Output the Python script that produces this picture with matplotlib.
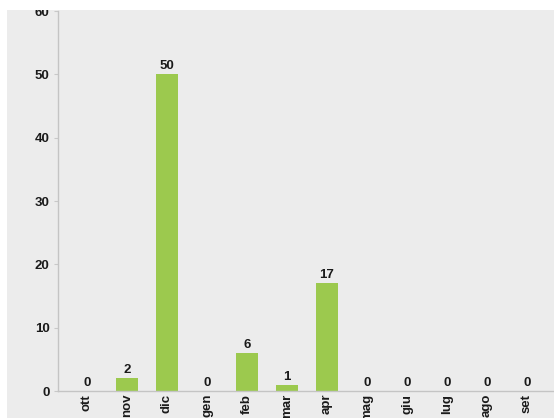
import matplotlib
matplotlib.use("Agg")
import matplotlib.pyplot as plt
import matplotlib.patches as patches

# monthly counts, fiscal year from October
months = ["ott", "nov", "dic", "gen", "feb", "mar", "apr", "mag", "giu", "lug", "ago", "set"]
counts = [0, 2, 50, 0, 6, 1, 17, 0, 0, 0, 0, 0]
y_ticks = [0, 10, 20, 30, 40, 50, 60]

W, H = 554, 418
plt.rcParams["font.family"] = ["Liberation Sans", "DejaVu Sans"]

fig = plt.figure(figsize=(W / 100, H / 100), dpi=100, facecolor="white")

# gray panel behind the chart
bg = patches.Rectangle((7 / W, 0), 1 - 7 / W, 1 - 10 / H, transform=fig.transFigure,
                       facecolor="#ececec", edgecolor="none", zorder=-10)
fig.add_artist(bg)

ax = fig.add_axes([58 / W, (H - 391) / H, (W - 58) / W, (391 - 11) / H])
ax.set_facecolor("none")

x = list(range(len(months)))
bars = ax.bar(x, counts, width=0.55, color="#9cc94e", edgecolor="none", zorder=2)
for xi, v in zip(x, counts):
    ax.text(xi, v + 0.3, str(v), ha="center", va="bottom", fontsize=9.5,
            fontweight="bold", color="#1a1a1a")

ax.set_xlim(-0.725, 11.675)
ax.set_ylim(0, 60)
ax.set_yticks(y_ticks)
ax.set_yticklabels([str(t) for t in y_ticks], fontsize=9.5, fontweight="bold", color="#1a1a1a")
ax.set_xticks(x)
ax.set_xticklabels(months, rotation=90, fontsize=9.5, fontweight="bold", color="#1a1a1a")
ax.tick_params(axis="x", length=0, pad=2)
ax.tick_params(axis="y", length=3, color="#c8c8c8", pad=3)

for side in ["top", "right"]:
    ax.spines[side].set_visible(False)
for side in ["left", "bottom"]:
    ax.spines[side].set_color("#c4c4c4")
    ax.spines[side].set_linewidth(1)

# white strip on top that trims the upper edge
top = patches.Rectangle((0, 1 - 10 / H), 1, 10 / H, transform=fig.transFigure,
                        facecolor="white", edgecolor="none", zorder=10)
fig.add_artist(top)

fig.savefig("out.png", dpi=100, facecolor="white")
